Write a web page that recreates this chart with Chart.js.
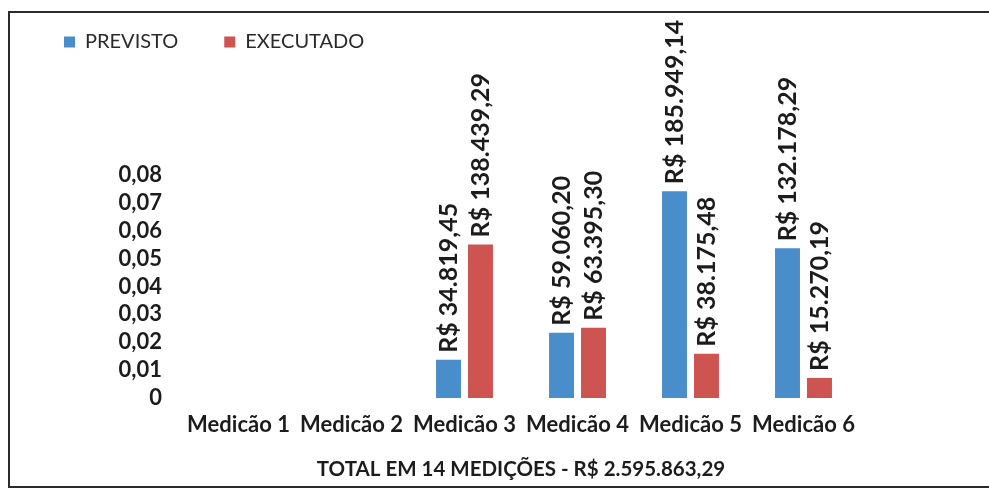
<!DOCTYPE html>
<html>
<head>
<meta charset="utf-8">
<script src="https://cdn.jsdelivr.net/npm/chart.js@4.4.0/dist/chart.umd.min.js"></script>
<style>
  html, body { margin: 0; padding: 0; background: #fff; overflow: hidden; }
  #chart { display: block; }
</style>
</head>
<body>
<canvas id="chart" width="989" height="493"></canvas>
<script>
const categories = ['Medicão 1', 'Medicão 2', 'Medicão 3', 'Medicão 4', 'Medicão 5', 'Medicão 6'];

// bar heights
const previsto = [0, 0, 0.0137, 0.0234, 0.0742, 0.0537];
const executado = [0, 0, 0.0551, 0.0252, 0.0159, 0.0072];

// amounts printed above the bars
const previstoReais = [0, 0, 34819.45, 59060.20, 185949.14, 132178.29];
const executadoReais = [0, 0, 138439.29, 63395.30, 38175.48, 15270.19];

const yTicks = [0, 0.01, 0.02, 0.03, 0.04, 0.05, 0.06, 0.07, 0.08];
const yTickLabels = ['0', '0,01', '0,02', '0,03', '0,04', '0,05', '0,06', '0,07', '0,08'];

const totalLabel = 'TOTAL EM 14 MEDIÇÕES - R$ 2.595.863,29';

const FONT = 'Lato';
const TEXT = '#1c1c1c';

const formatReais = (v) => {
    const [int, dec] = v.toFixed(2).split('.');
    return 'R$ ' + int.replace(/\B(?=(\d{3})+(?!\d))/g, '.') + ',' + dec;
}

// rotated value labels above each bar
const barLabels = {
    id: 'barLabels',
    afterDatasetsDraw(chart) {
        const ctx = chart.ctx;
        const amounts = [previstoReais, executadoReais];
        ctx.save();
        ctx.font = 'bold 25px ' + FONT;
        ctx.fillStyle = TEXT;
        ctx.textAlign = 'left';
        ctx.textBaseline = 'middle';
        amounts.forEach((list, di) => {
            chart.getDatasetMeta(di).data.forEach((bar, i) => {
                if (!list[i]) return;
                ctx.save();
                ctx.translate(bar.x, bar.y - 7);
                ctx.rotate(-Math.PI / 2);
                ctx.fillText(formatReais(list[i]), 0, 0);
                ctx.restore();
            });
        });
        ctx.restore();
    }
};

// open frame: top, left and bottom edges only
const frame = {
    id: 'frame',
    beforeDraw(chart) {
        const ctx = chart.ctx;
        ctx.save();
        ctx.fillStyle = '#fff';
        ctx.fillRect(0, 0, chart.width, chart.height);
        ctx.strokeStyle = '#2b2b2b';
        ctx.lineWidth = 2;
        ctx.beginPath();
        ctx.moveTo(chart.width, 12);
        ctx.lineTo(9, 12);
        ctx.lineTo(9, 487);
        ctx.lineTo(chart.width, 487);
        ctx.stroke();
        ctx.restore();
    }
};

// leave the empty band between legend and plot
const legendSpace = {
    id: 'legendSpace',
    afterInit(chart) {
        const legend = chart.legend;
        if (!legend) return;
        const fit = legend.fit;
        legend.fit = function () {
            fit.call(this);
            this.height = 189;
        };
    }
};

new Chart(document.getElementById('chart'), {
    type: 'bar',
    data: {
        labels: categories,
        datasets: [{
            label: 'PREVISTO',
            data: previsto,
            backgroundColor: '#4a8dcb',
            borderWidth: 0,
            categoryPercentage: 0.566,
            barPercentage: 0.78,
        }, {
            label: 'EXECUTADO',
            data: executado,
            backgroundColor: '#cd5450',
            borderWidth: 0,
            categoryPercentage: 0.566,
            barPercentage: 0.78,
        }]
    },
    options: {
        responsive: false,
        animation: false,
        devicePixelRatio: 1,
        layout: {
            padding: { top: -14, left: 18, right: 129, bottom: 9 }
        },
        plugins: {
            tooltip: { enabled: false },
            legend: {
                display: true,
                position: 'top',
                align: 'start',
                labels: {
                    boxWidth: 11,
                    boxHeight: 11,
                    padding: 46,
                    color: '#2a2a2a',
                    font: { family: FONT, size: 20 }
                }
            }
        },
        scales: {
            x: {
                grid: { display: false, drawTicks: false },
                border: { display: false },
                ticks: {
                    padding: 14,
                    color: TEXT,
                    font: { family: FONT, size: 22, weight: 'bold' },
                    maxRotation: 0,
                    autoSkip: false
                },
                title: {
                    display: true,
                    text: totalLabel,
                    color: TEXT,
                    padding: { top: 0, bottom: 2 },
                    font: { family: FONT, size: 20.5, weight: 'bold' }
                },
                afterFit: (axis) => { axis.height = 86; }
            },
            y: {
                min: 0,
                max: 0.08,
                grid: { display: false, drawTicks: false },
                border: { display: false },
                afterBuildTicks: (axis) => { axis.ticks = yTicks.map(v => ({ value: v })); },
                ticks: {
                    padding: 20,
                    autoSkip: false,
                    color: TEXT,
                    font: { family: FONT, size: 22, weight: 'bold' },
                    callback: (v, i) => yTickLabels[i]
                },
                afterFit: (axis) => { axis.width = 164; }
            }
        }
    },
    plugins: [frame, barLabels, legendSpace]
});
</script>
</body>
</html>
